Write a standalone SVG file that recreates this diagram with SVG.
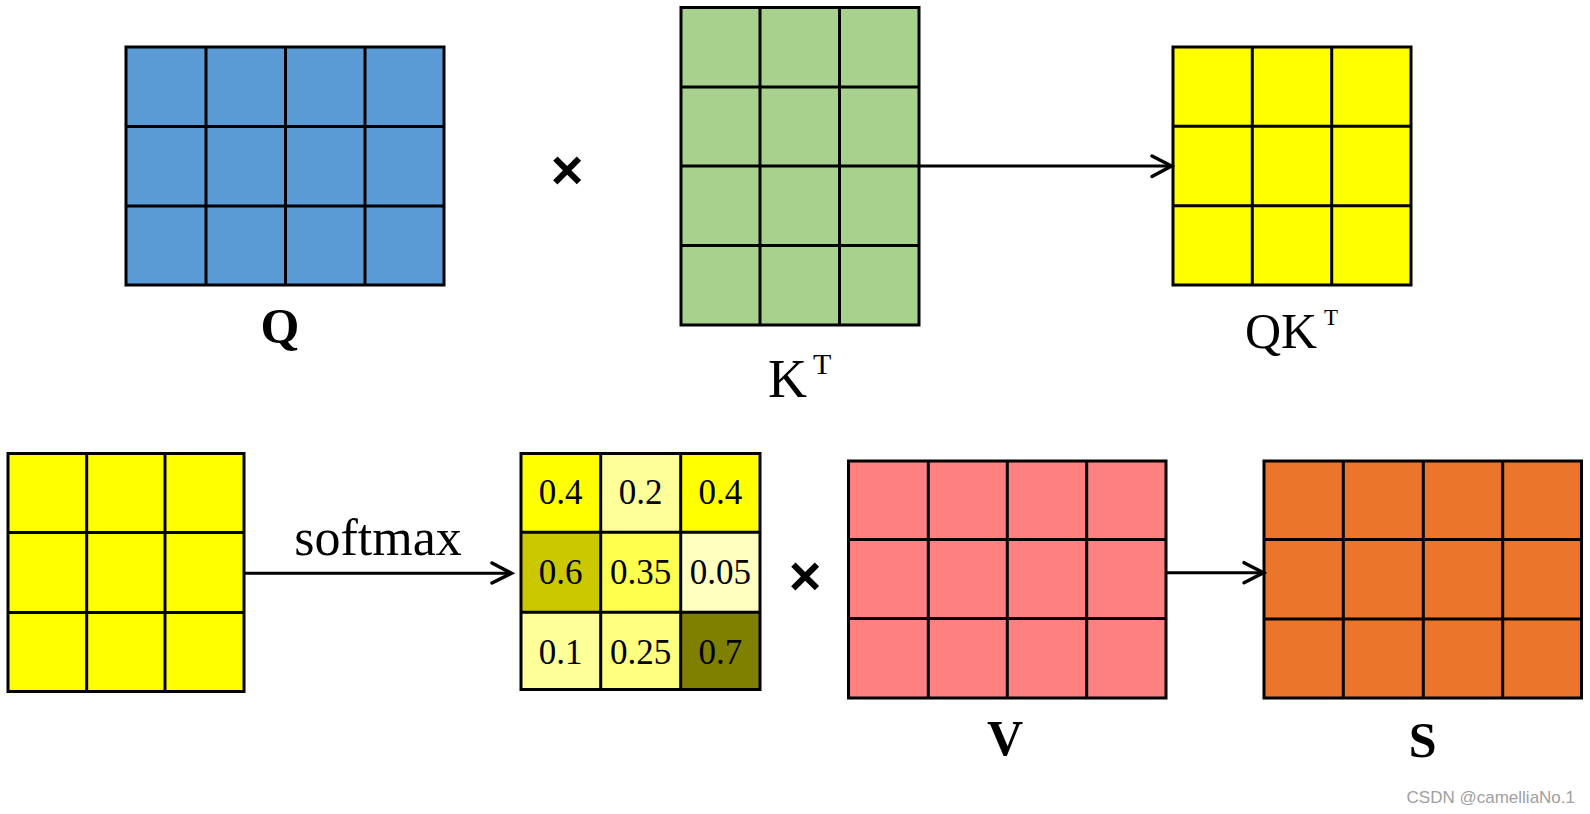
<svg xmlns="http://www.w3.org/2000/svg" width="1590" height="814" viewBox="0 0 1590 814">
<style>
.g{stroke:#000;stroke-width:3;stroke-linecap:square}
.lbl{font-family:"Liberation Serif","Times New Roman",serif;fill:#000}
.b{font-weight:bold;font-size:50px;text-anchor:middle}
.num{font-family:"Liberation Serif","Times New Roman",serif;font-size:35px;text-anchor:middle;fill:#000}
.mul{font-family:"Liberation Sans",Arial,sans-serif;font-weight:bold;font-size:56px;text-anchor:middle;fill:#000}
.conn{stroke:#000;stroke-width:3;fill:none}
.head{stroke:#000;stroke-width:3.5;fill:none;stroke-linecap:round;stroke-linejoin:miter}
</style>
<rect width="1590" height="814" fill="#fff"/>

<g id="Q">
<rect x="126" y="47" width="318" height="238" fill="#5B9BD5"/>
<path class="g" d="M126 47H444V285H126Z M206 47V285 M285.5 47V285 M365 47V285 M126 126.5H444 M126 206H444" fill="none"/>
<text class="lbl b" x="280" y="343">Q</text>
</g>

<g id="mul1"><text class="mul" x="567" y="189">×</text></g>

<g id="KT">
<rect x="681" y="7.5" width="238" height="317.5" fill="#A9D18E"/>
<path class="g" d="M681 7.5H919V325H681Z M760 7.5V325 M839.5 7.5V325 M681 87H919 M681 166H919 M681 245.5H919" fill="none"/>
<text class="lbl" x="768" y="397" font-size="54">K</text>
<text class="lbl" x="813" y="374" font-size="30">T</text>
</g>

<g id="QKT">
<rect x="1173" y="47" width="238" height="238" fill="#FFFF00"/>
<path class="g" d="M1173 47H1411V285H1173Z M1252.3 47V285 M1331.7 47V285 M1173 126.3H1411 M1173 205.7H1411" fill="none"/>
<text class="lbl" x="1245" y="348" font-size="50">QK</text>
<text class="lbl" x="1324" y="325" font-size="23">T</text>
</g>

<g id="QKT2">
<rect x="8" y="453.5" width="236" height="238" fill="#FFFF00"/>
<path class="g" d="M8 453.5H244V691.5H8Z M86.7 453.5V691.5 M165 453.5V691.5 M8 532.5H244 M8 612.5H244" fill="none"/>
</g>

<g id="softmaxLabel"><text class="lbl" x="378" y="555" font-size="52" text-anchor="middle">softmax</text></g>

<g id="A">
<rect x="521" y="453.5" width="80" height="79" fill="#FFFF00"/>
<rect x="601" y="453.5" width="80" height="79" fill="#FFFF99"/>
<rect x="681" y="453.5" width="79" height="79" fill="#FFFF00"/>
<rect x="521" y="532.5" width="80" height="80" fill="#CCC800"/>
<rect x="601" y="532.5" width="80" height="80" fill="#FFFF4D"/>
<rect x="681" y="532.5" width="79" height="80" fill="#FFFFBF"/>
<rect x="521" y="612.5" width="80" height="77" fill="#FFFF99"/>
<rect x="601" y="612.5" width="80" height="77" fill="#FFFF80"/>
<rect x="681" y="612.5" width="79" height="77" fill="#808000"/>
<path class="g" d="M521 453.5H760V689.5H521Z M600.7 453.5V689.5 M680.7 453.5V689.5 M521 532.3H760 M521 612.3H760" fill="none"/>
<text class="num" x="560.5" y="504">0.4</text>
<text class="num" x="640.7" y="504">0.2</text>
<text class="num" x="720.3" y="504">0.4</text>
<text class="num" x="560.5" y="583.5">0.6</text>
<text class="num" x="640.7" y="583.5">0.35</text>
<text class="num" x="720.3" y="583.5">0.05</text>
<text class="num" x="560.5" y="663.5">0.1</text>
<text class="num" x="640.7" y="663.5">0.25</text>
<text class="num" x="720.3" y="663.5">0.7</text>
</g>

<g id="mul2"><text class="mul" x="805" y="595">×</text></g>

<g id="V">
<rect x="848.5" y="461" width="317.5" height="237" fill="#FF8080"/>
<path class="g" d="M848.5 461H1166V698H848.5Z M928.3 461V698 M1007.3 461V698 M1086.7 461V698 M848.5 539.5H1166 M848.5 618.5H1166" fill="none"/>
<text class="lbl b" x="1005" y="755">V</text>
</g>

<g id="S">
<rect x="1264" y="461" width="317.5" height="237" fill="#EB762B"/>
<path class="g" d="M1264 461H1581.5V698H1264Z M1343.3 461V698 M1423.3 461V698 M1502.7 461V698 M1264 539.5H1581.5 M1264 619H1581.5" fill="none"/>
<text class="lbl b" x="1422.7" y="757">S</text>
</g>

<g id="connectors">
<line class="conn" x1="919" y1="166" x2="1171" y2="166"/>
<polyline class="head" points="1152,156 1171.5,166 1152,176.5"/>
<line class="conn" x1="244" y1="573.3" x2="511" y2="573.3"/>
<polyline class="head" points="492,563 511.5,573.3 492,583"/>
<line class="conn" x1="1166" y1="572.7" x2="1263" y2="572.7"/>
<polyline class="head" points="1244,562.7 1263.5,572.7 1244,582.7"/>
</g>

<text x="1575" y="803" font-family="Liberation Sans,Arial,sans-serif" font-size="17" fill="#A0A0A0" text-anchor="end">CSDN @camelliaNo.1</text>
</svg>
